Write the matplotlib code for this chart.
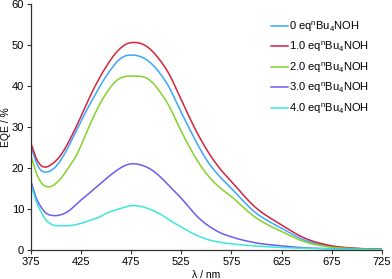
import numpy as np
import matplotlib
matplotlib.use("Agg")
import matplotlib.pyplot as plt

plt.rcParams["font.family"] = ["Liberation Sans", "DejaVu Sans"]
plt.rcParams["mathtext.fontset"] = "custom"
plt.rcParams["mathtext.rm"] = "Liberation Sans"
plt.rcParams["mathtext.it"] = "Liberation Sans"

# ---------------------------------------------------------------------------
# EQE spectra (wavelength in nm, EQE in %)
# ---------------------------------------------------------------------------
wl_0eq = [375, 380, 385, 389, 398, 408, 418, 428, 438, 452, 465, 478, 493, 503, 513,
          522, 532, 542, 552, 563, 575, 598, 625, 648, 671, 700, 725]
eqe_0eq = [25.2, 21.5, 19.4, 19.0, 19.9, 23.2, 28.0, 32.9, 37.4, 43.1, 46.8, 47.5, 45.9,
           43.3, 39.6, 35.0, 30.1, 25.4, 21.3, 18.0, 15.0, 9.3, 5.3, 2.4, 1.0, 0.35, 0.2]

wl_1eq = [375, 380, 385, 389, 395, 405, 415, 425, 435, 448, 461, 470, 478, 488, 503,
          513, 522, 532, 542, 552, 563, 575, 598, 625, 648, 671, 700, 725]
eqe_1eq = [26.0, 22.5, 20.6, 20.2, 20.8, 23.2, 27.5, 32.6, 38.0, 43.9, 48.4, 50.2, 50.6,
           50.0, 46.5, 42.8, 38.2, 32.9, 28.0, 23.8, 20.0, 16.7, 10.6, 6.1, 2.9, 1.2, 0.4, 0.2]

wl_2eq = [375, 380, 385, 393, 402, 412, 421, 428, 435, 448, 461, 478, 493, 503, 513,
          522, 532, 542, 552, 563, 575, 598, 625, 648, 671, 700, 725]
eqe_2eq = [23.0, 19.0, 16.5, 15.4, 16.7, 19.9, 23.4, 27.2, 31.2, 37.4, 41.4, 42.4, 41.5,
           38.8, 35.0, 30.4, 25.6, 21.4, 18.0, 15.3, 13.0, 8.1, 4.5, 2.0, 0.8, 0.3, 0.15]

wl_3eq = [375, 380, 385, 390, 397, 405, 412, 418, 425, 432, 440, 450, 460, 468, 475,
          485, 495, 505, 515, 525, 532, 542, 552, 563, 575, 598, 625, 650, 675, 700, 725]
eqe_3eq = [16.7, 12.8, 10.5, 9.0, 8.4, 8.6, 9.4, 10.6, 12.2, 13.6, 15.3, 17.4, 19.3,
           20.5, 21.0, 20.7, 19.6, 17.6, 15.1, 12.6, 10.6, 7.9, 5.9, 4.3, 3.2, 1.8, 1.0,
           0.5, 0.3, 0.15, 0.1]

wl_4eq = [375, 380, 385, 390, 395, 405, 415, 425, 435, 442, 450, 460, 468, 475, 485,
          495, 505, 515, 525, 532, 542, 552, 563, 575, 598, 625, 650, 675, 700, 725]
eqe_4eq = [15.9, 12.0, 9.3, 7.3, 6.3, 5.9, 6.0, 6.5, 7.3, 7.9, 8.9, 9.8, 10.4, 10.8,
           10.6, 9.8, 8.6, 7.0, 5.6, 4.6, 3.4, 2.5, 1.9, 1.5, 1.0, 0.6, 0.4, 0.25, 0.15, 0.1]

labels = ["0 eq", "1.0 eq", "2.0 eq", "3.0 eq", "4.0 eq"]
colors = ["#3aa6ff", "#d2233f", "#84d22a", "#6a5cf0", "#3de8d6"]
xticks = [375, 425, 475, 525, 575, 625, 675, 725]
yticks = [0, 10, 20, 30, 40, 50, 60]

series = [(wl_0eq, eqe_0eq), (wl_1eq, eqe_1eq), (wl_2eq, eqe_2eq),
          (wl_3eq, eqe_3eq), (wl_4eq, eqe_4eq)]


def smooth(x, y, n=500):
    # cubic Hermite through the read points (display only)
    x = np.asarray(x, float)
    y = np.asarray(y, float)
    xs = np.linspace(x[0], x[-1], n)
    m = np.gradient(y, x)
    idx = np.clip(np.searchsorted(x, xs) - 1, 0, len(x) - 2)
    h = x[idx + 1] - x[idx]
    t = (xs - x[idx]) / h
    h00 = 2 * t**3 - 3 * t**2 + 1
    h10 = t**3 - 2 * t**2 + t
    h01 = -2 * t**3 + 3 * t**2
    h11 = t**3 - t**2
    ys = h00 * y[idx] + h10 * h * m[idx] + h01 * y[idx + 1] + h11 * h * m[idx + 1]
    return xs, ys


fig = plt.figure(figsize=(3.92, 2.79), dpi=100)
ax = fig.add_axes([0.079, 0.104, 0.895, 0.882])

for (x, y), lab, c in zip(series, labels, colors):
    xs, ys = smooth(x, y)
    ax.plot(xs, ys, color=c, lw=1.1, label=lab + r"$^{\rm n}$Bu$_{4}$NOH")

ax.set_xlim(375, 725)
ax.set_ylim(0, 60)
ax.set_xticks(xticks)
ax.set_yticks(yticks)
ax.tick_params(labelsize=8, length=3, width=0.8, color="#333333", pad=2)
for side in ("top", "right"):
    ax.spines[side].set_visible(False)
for side in ("left", "bottom"):
    ax.spines[side].set_color("#333333")
    ax.spines[side].set_linewidth(0.9)

ax.set_xlabel("λ / nm", fontsize=7.5, labelpad=2)
ax.set_ylabel("EQE / %", fontsize=7.5)
ax.yaxis.set_label_coords(-0.058, 0.5)

ax.legend(loc="upper left", bbox_to_anchor=(0.684, 0.937), frameon=False, fontsize=8,
          handlelength=1.5, handletextpad=0.15, labelspacing=0.55,
          borderaxespad=0, borderpad=0)

fig.savefig("out.png", dpi=100)
